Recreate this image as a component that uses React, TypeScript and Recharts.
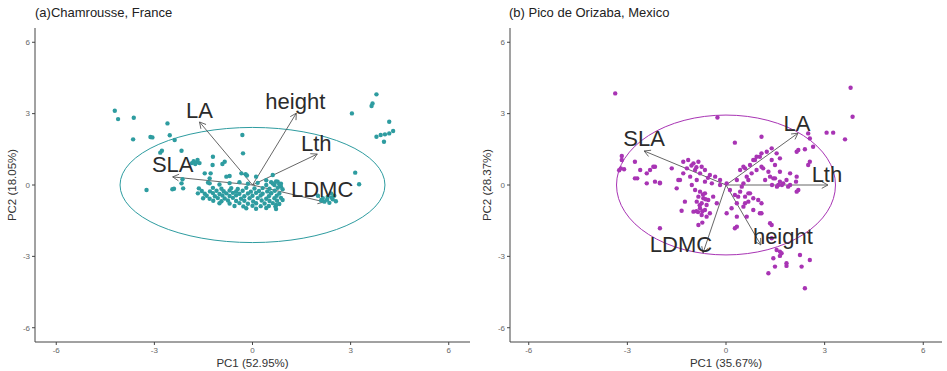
import React from "react";
import {
  ScatterChart,
  Scatter,
  XAxis,
  YAxis,
  ReferenceLine,
} from "recharts";

// ---- data (PCA scores, loadings, label anchors, ellipses) ----

const ticks = [-6, -3, 0, 3, 6];

const scoresA = [
  // scattered points, upper left
  { x: -4.21, y: 3.12 }, { x: -4.11, y: 2.77 }, { x: -3.63, y: 2.83 }, { x: -3.65, y: 1.92 },
  { x: -3.12, y: 2.02 }, { x: -3.06, y: 2.0 }, { x: -2.6, y: 2.59 }, { x: -2.53, y: 2.09 },
  { x: -2.38, y: 1.89 }, { x: -2.77, y: 1.44 }, { x: -2.82, y: 1.36 }, { x: -2.17, y: 1.44 },
  { x: -1.8, y: 1.0 }, { x: -1.72, y: 0.95 }, { x: -1.68, y: 1.05 }, { x: -1.75, y: 0.88 },
  { x: -1.62, y: 0.92 }, { x: -1.85, y: 0.92 }, { x: -1.21, y: 1.19 }, { x: -0.92, y: 0.88 },
  { x: -0.31, y: 2.1 }, { x: -0.29, y: 1.33 },
  { x: -3.24, y: -0.21 }, { x: -2.45, y: -0.18 }, { x: -2.4, y: -0.16 }, { x: -2.17, y: 0.07 },
  { x: -2.12, y: -0.14 }, { x: -2.14, y: 0.24 },
  { x: -1.46, y: 0.49 }, { x: -1.22, y: 0.84 }, { x: -0.85, y: 0.98 }, { x: -0.7, y: 0.38 },
  { x: -0.34, y: 0.49 }, { x: -1.31, y: 0.28 }, { x: -1.31, y: 0.07 }, { x: -1.28, y: 0.49 },
  { x: -0.8, y: 0.35 }, { x: -0.21, y: 0.45 }, { x: -0.17, y: 0.4 }, { x: 0.11, y: 0.35 },
  { x: 0.42, y: 0.2 }, { x: 0.57, y: 0.12 }, { x: 0.72, y: 0.15 }, { x: 0.87, y: 0.05 },
  { x: 0.62, y: 0.42 }, { x: 0.77, y: 0.14 }, { x: 0.67, y: 0.0 }, { x: 0.87, y: -0.07 },
  { x: 0.92, y: -0.63 }, { x: 0.72, y: -0.84 }, { x: 0.57, y: -0.35 },
  // far right
  { x: 3.14, y: 0.52 }, { x: 3.26, y: 0.03 }, { x: 3.04, y: 3.01 }, { x: 3.79, y: 3.81 },
  { x: 3.67, y: 3.43 }, { x: 3.64, y: 3.32 }, { x: 4.18, y: 2.66 }, { x: 4.3, y: 2.27 },
  { x: 4.18, y: 2.17 }, { x: 4.05, y: 2.13 }, { x: 3.92, y: 2.1 }, { x: 3.79, y: 2.03 },
  { x: 4.02, y: 1.82 },
  // cluster at the LDMC arrow tip
  { x: 2.0, y: -0.45 }, { x: 2.15, y: -0.55 }, { x: 2.3, y: -0.5 }, { x: 2.45, y: -0.6 },
  { x: 2.2, y: -0.7 }, { x: 2.35, y: -0.75 }, { x: 2.5, y: -0.45 }, { x: 2.1, y: -0.65 },
  { x: 2.55, y: -0.68 }, { x: 2.4, y: -0.35 }, { x: 2.28, y: -0.62 }, { x: 2.42, y: -0.52 },
  // dense band below the origin
  { x: -1.36, y: 0.1 }, { x: -1.01, y: 0.02 }, { x: -0.7, y: 0.08 }, { x: -0.4, y: 0.12 },
  { x: -0.14, y: 0.05 }, { x: 0.16, y: 0.09 }, { x: 0.42, y: 0.0 }, { x: 0.62, y: 0.06 },
  { x: 0.82, y: 0.03 },
  { x: -1.64, y: -0.14 }, { x: -1.21, y: -0.12 }, { x: -0.95, y: -0.16 }, { x: -0.65, y: -0.13 },
  { x: -0.45, y: -0.17 }, { x: -0.19, y: -0.12 }, { x: 0.06, y: -0.15 }, { x: 0.31, y: -0.13 },
  { x: 0.52, y: -0.16 }, { x: 0.77, y: -0.12 }, { x: 0.92, y: -0.18 },
  { x: -1.55, y: -0.25 }, { x: -1.3, y: -0.27 }, { x: -1.1, y: -0.24 }, { x: -0.88, y: -0.26 },
  { x: -0.7, y: -0.23 }, { x: -0.5, y: -0.27 }, { x: -0.3, y: -0.24 }, { x: -0.05, y: -0.28 },
  { x: 0.2, y: -0.25 }, { x: 0.45, y: -0.27 }, { x: 0.68, y: -0.24 },
  { x: -1.67, y: -0.35 }, { x: -1.46, y: -0.37 }, { x: -1.21, y: -0.34 }, { x: -1.01, y: -0.38 },
  { x: -0.8, y: -0.35 }, { x: -0.6, y: -0.33 }, { x: -0.4, y: -0.37 }, { x: -0.14, y: -0.36 },
  { x: 0.11, y: -0.33 }, { x: 0.31, y: -0.37 }, { x: 0.57, y: -0.34 }, { x: 0.82, y: -0.36 },
  { x: -1.4, y: -0.45 }, { x: -1.15, y: -0.47 }, { x: -0.92, y: -0.44 }, { x: -0.7, y: -0.46 },
  { x: -0.5, y: -0.43 }, { x: -0.25, y: -0.47 }, { x: 0.0, y: -0.45 }, { x: 0.25, y: -0.44 },
  { x: 0.5, y: -0.47 }, { x: 0.74, y: -0.45 },
  { x: -1.51, y: -0.56 }, { x: -1.31, y: -0.58 }, { x: -1.06, y: -0.55 }, { x: -0.85, y: -0.57 },
  { x: -0.6, y: -0.54 }, { x: -0.35, y: -0.58 }, { x: -0.09, y: -0.56 }, { x: 0.16, y: -0.55 },
  { x: 0.42, y: -0.58 }, { x: 0.67, y: -0.56 }, { x: 0.87, y: -0.54 },
  { x: -1.2, y: -0.66 }, { x: -0.95, y: -0.68 }, { x: -0.75, y: -0.65 }, { x: -0.5, y: -0.67 },
  { x: -0.25, y: -0.66 }, { x: 0.02, y: -0.69 }, { x: 0.28, y: -0.65 }, { x: 0.52, y: -0.67 },
  { x: 0.75, y: -0.66 },
  { x: -1.01, y: -0.77 }, { x: -0.7, y: -0.78 }, { x: -0.4, y: -0.76 }, { x: -0.14, y: -0.79 },
  { x: 0.11, y: -0.77 }, { x: 0.37, y: -0.78 }, { x: 0.62, y: -0.76 }, { x: 0.82, y: -0.8 },
  { x: -0.55, y: -0.88 }, { x: -0.28, y: -0.9 }, { x: 0.0, y: -0.87 }, { x: 0.25, y: -0.89 },
  { x: 0.5, y: -0.88 }, { x: 0.7, y: -0.9 },
  { x: -0.19, y: -0.98 }, { x: 0.11, y: -1.0 }, { x: 0.42, y: -0.97 }, { x: 0.72, y: -1.01 },
];

const loadingsA = [
  { name: "LA", x: -1.62, y: 2.65 },
  { name: "height", x: 1.34, y: 3.02 },
  { name: "Lth", x: 1.98, y: 1.3 },
  { name: "SLA", x: -2.44, y: 0.34 },
  { name: "LDMC", x: 2.19, y: -0.71 },
];

const labelsA = [
  { name: "LA", x: -1.62, y: 3.15 },
  { name: "height", x: 1.31, y: 3.49 },
  { name: "Lth", x: 1.95, y: 1.76 },
  { name: "SLA", x: -2.44, y: 0.88 },
  { name: "LDMC", x: 2.13, y: -0.17 },
];

const ellipseA = { cx: 0, cy: 0, rx: 4.05, ry: 2.42 };

const scoresB = [
  // outliers
  { x: -3.37, y: 3.85 }, { x: 3.79, y: 4.09 }, { x: 3.85, y: 2.87 }, { x: 3.62, y: 1.92 },
  { x: 3.06, y: 2.2 }, { x: 3.26, y: 2.2 }, { x: 2.5, y: 2.17 }, { x: 2.55, y: 1.96 },
  { x: 2.65, y: 1.61 }, { x: 2.15, y: 1.4 }, { x: 2.5, y: 0.84 }, { x: 1.08, y: 2.03 },
  { x: 0.27, y: 1.78 }, { x: -0.26, y: 2.84 },
  // left side
  { x: -3.17, y: 1.22 }, { x: -3.2, y: 0.7 }, { x: -3.25, y: 0.62 }, { x: -3.1, y: 0.66 },
  { x: -3.17, y: 1.05 }, { x: -2.77, y: 0.98 }, { x: -2.7, y: 0.28 }, { x: -2.41, y: 0.49 },
  { x: -2.16, y: 0.77 }, { x: -2.16, y: 0.14 }, { x: -2.01, y: 0.1 }, { x: -1.65, y: 0.7 },
  { x: -2.61, y: 0.63 }, { x: -2.77, y: 0.28 }, { x: -2.41, y: 0.07 }, { x: -2.21, y: 0.77 },
  { x: -2.31, y: 0.63 }, { x: -2.01, y: 0.07 }, { x: -1.45, y: 0.21 }, { x: -1.5, y: -0.14 },
  { x: -1.25, y: -0.7 }, { x: -2.01, y: -1.82 },
  { x: -1.35, y: -1.08 }, { x: -0.99, y: -1.12 }, { x: -0.9, y: -1.1 }, { x: -0.85, y: -1.14 },
  { x: -0.72, y: -1.58 }, { x: -0.84, y: -1.68 },
  // cluster along SLA arrow
  { x: -1.3, y: 0.98 }, { x: -1.15, y: 1.05 }, { x: -0.99, y: 0.91 }, { x: -0.84, y: 0.98 },
  { x: -0.74, y: 0.77 }, { x: -0.64, y: 0.63 }, { x: -1.19, y: 0.7 }, { x: -0.94, y: 0.63 },
  { x: -0.79, y: 0.49 }, { x: -0.49, y: 0.42 }, { x: -0.33, y: 0.35 }, { x: -0.18, y: 0.21 },
  { x: -1.09, y: 0.35 }, { x: -0.89, y: 0.21 }, { x: -0.64, y: 0.14 }, { x: -0.43, y: 0.07 },
  { x: -1.4, y: 0.21 }, { x: -1.3, y: 0.49 }, { x: -1.04, y: 0.0 }, { x: -0.18, y: 0.0 },
  { x: 0.02, y: 0.07 }, { x: -1.05, y: 0.82 }, { x: -0.9, y: 0.75 }, { x: -0.55, y: 0.3 },
  // vertical blob below
  { x: -0.94, y: -0.21 }, { x: -0.79, y: -0.28 }, { x: -0.64, y: -0.35 }, { x: -0.84, y: -0.49 },
  { x: -0.69, y: -0.56 }, { x: -0.54, y: -0.63 }, { x: -0.89, y: -0.7 }, { x: -0.74, y: -0.77 },
  { x: -0.59, y: -0.84 }, { x: -0.79, y: -0.98 }, { x: -0.64, y: -1.05 }, { x: -0.49, y: -1.19 },
  { x: -0.74, y: -1.26 }, { x: -0.59, y: -1.33 }, { x: -0.39, y: -0.49 }, { x: -0.28, y: -0.77 },
  { x: -0.7, y: -0.4 }, { x: -0.8, y: -0.85 }, { x: -0.62, y: -0.6 }, { x: -0.72, y: -1.1 },
  // cluster along LA arrow
  { x: 0.43, y: 0.63 }, { x: 0.58, y: 0.7 }, { x: 0.73, y: 0.84 }, { x: 0.83, y: 1.05 },
  { x: 0.93, y: 1.19 }, { x: 1.08, y: 1.33 }, { x: 1.24, y: 1.4 }, { x: 1.39, y: 1.54 },
  { x: 0.63, y: 0.35 }, { x: 0.78, y: 0.49 }, { x: 0.93, y: 0.63 }, { x: 1.08, y: 0.77 },
  { x: 0.33, y: 0.21 }, { x: 0.53, y: 0.07 }, { x: 0.68, y: 0.21 }, { x: 0.53, y: 0.77 },
  { x: 0.88, y: 1.05 }, { x: 1.03, y: 1.19 }, { x: 0.48, y: -0.07 },
  { x: 1.39, y: 1.05 }, { x: 1.54, y: 1.33 }, { x: 1.64, y: 1.12 }, { x: 1.49, y: 0.84 },
  { x: 1.29, y: 0.56 }, { x: 1.13, y: 0.7 }, { x: 1.64, y: 0.56 }, { x: 1.95, y: 0.49 },
  { x: 1.74, y: 0.07 }, { x: 1.89, y: -0.07 }, { x: 2.2, y: -0.21 }, { x: 1.59, y: 0.0 },
  { x: 2.2, y: 1.47 }, { x: 2.4, y: 1.5 }, { x: 2.55, y: 0.98 }, { x: 2.15, y: 0.35 },
  // along Lth arrow
  { x: 1.19, y: 0.21 }, { x: 1.34, y: 0.35 }, { x: 1.49, y: 0.28 }, { x: 1.64, y: 0.14 },
  { x: 1.84, y: 0.21 }, { x: 1.95, y: 0.0 }, { x: 1.7, y: 0.0 }, { x: 1.55, y: -0.07 },
  { x: 1.4, y: 0.0 }, { x: 2.13, y: 0.14 }, { x: 2.15, y: -0.28 }, { x: 1.44, y: 0.28 },
  // cluster along height arrow
  { x: 0.12, y: -0.21 }, { x: 0.27, y: -0.42 }, { x: 0.43, y: -0.28 }, { x: 0.58, y: -0.49 },
  { x: 0.73, y: -0.35 }, { x: 0.33, y: -0.77 }, { x: 0.53, y: -0.91 }, { x: 0.68, y: -0.7 },
  { x: 0.83, y: -1.05 }, { x: 0.17, y: -0.98 }, { x: 1.03, y: -1.19 }, { x: 1.08, y: -0.77 },
  { x: 0.63, y: -1.33 }, { x: 0.33, y: -1.33 }, { x: 0.68, y: -0.35 }, { x: 0.83, y: -0.56 },
  { x: 0.98, y: -0.63 }, { x: 0.58, y: -0.77 }, { x: 0.37, y: -0.49 },
  { x: 0.02, y: -1.19 }, { x: 0.33, y: -1.75 }, { x: 0.27, y: -1.82 }, { x: 1.08, y: -1.19 },
  { x: 1.34, y: -1.61 }, { x: 1.39, y: -1.68 },
  // lower right spread
  { x: 1.39, y: -2.24 }, { x: 1.54, y: -2.73 }, { x: 1.64, y: -2.8 }, { x: 1.69, y: -2.87 },
  { x: 1.64, y: -2.98 }, { x: 1.44, y: -3.08 }, { x: 1.84, y: -3.29 }, { x: 1.49, y: -3.43 },
  { x: 2.25, y: -2.94 }, { x: 2.55, y: -3.15 }, { x: 2.3, y: -3.43 }, { x: 1.29, y: -3.71 },
  { x: 2.4, y: -4.34 }, { x: 1.84, y: -3.4 },
];

const loadingsB = [
  { name: "SLA", x: -2.49, y: 1.43 },
  { name: "LA", x: 2.19, y: 2.18 },
  { name: "Lth", x: 3.1, y: 0.0 },
  { name: "height", x: 1.06, y: -2.52 },
  { name: "LDMC", x: -0.7, y: -2.86 },
];

const labelsB = [
  { name: "SLA", x: -2.49, y: 1.97 },
  { name: "LA", x: 2.16, y: 2.6 },
  { name: "Lth", x: 3.07, y: 0.46 },
  { name: "height", x: 1.73, y: -2.18 },
  { name: "LDMC", x: -1.37, y: -2.52 },
];

const ellipseB = { cx: 0, cy: 0, rx: 3.33, ry: 2.94 };

const TEAL = "#2e9ca0";
const PURPLE = "#a834b4";
const FONT = "'Liberation Sans', Arial, sans-serif";

function arrowShape(props: any) {
  const { x1, y1, x2, y2 } = props;
  const ang = Math.atan2(y2 - y1, x2 - x1);
  const len = 7;
  const spread = 0.5;
  const stroke = "#555";
  return (
    <g>
      <line x1={x1} y1={y1} x2={x2} y2={y2} stroke={stroke} strokeWidth={0.9} />
      <line
        x1={x2}
        y1={y2}
        x2={x2 - len * Math.cos(ang - spread)}
        y2={y2 - len * Math.sin(ang - spread)}
        stroke={stroke}
        strokeWidth={0.9}
      />
      <line
        x1={x2}
        y1={y2}
        x2={x2 - len * Math.cos(ang + spread)}
        y2={y2 - len * Math.sin(ang + spread)}
        stroke={stroke}
        strokeWidth={0.9}
      />
    </g>
  );
}

function ellipseShape(color: string) {
  return (props: any) => {
    const { x1, y1, x2, y2 } = props;
    return (
      <ellipse
        cx={(x1 + x2) / 2}
        cy={(y1 + y2) / 2}
        rx={Math.abs(x2 - x1) / 2}
        ry={Math.abs(y2 - y1) / 2}
        fill="none"
        stroke={color}
        strokeWidth={1}
      />
    );
  };
}

function dotShape(color: string) {
  return (props: any) => <circle cx={props.cx} cy={props.cy} r={2.2} fill={color} />;
}

function textShape(props: any) {
  return (
    <text
      x={props.cx}
      y={props.cy}
      textAnchor="middle"
      dominantBaseline="central"
      fontSize={22}
      fontFamily={FONT}
      fill="#2b2b2b"
    >
      {props.payload.name}
    </text>
  );
}

interface PanelProps {
  title: string;
  xLabel: string;
  yLabel: string;
  scores: { x: number; y: number }[];
  loadings: { name: string; x: number; y: number }[];
  labels: { name: string; x: number; y: number }[];
  ellipse: { cx: number; cy: number; rx: number; ry: number };
  color: string;
  xDomain: [number, number];
  left: number;
  marginLeft: number;
  marginRight: number;
}

function Panel(p: PanelProps) {
  const tickStyle = { fontSize: 8, fill: "#666", fontFamily: FONT };
  return (
    <div style={{ position: "absolute", left: p.left, top: 0, width: 473, height: 371 }}>
      <div
        style={{
          position: "absolute",
          left: 35,
          top: 5,
          fontSize: 13,
          fontFamily: FONT,
          color: "#222",
          whiteSpace: "nowrap",
        }}
      >
        {p.title}
      </div>
      <ScatterChart
        width={473}
        height={371}
        margin={{ top: 28, right: p.marginRight, bottom: 0, left: p.marginLeft }}
      >
        <XAxis
          type="number"
          dataKey="x"
          domain={p.xDomain}
          ticks={ticks}
          tick={tickStyle}
          tickSize={3}
          tickMargin={2}
          height={29}
          axisLine={{ stroke: "#444" }}
          tickLine={{ stroke: "#444" }}
          label={{
            value: p.xLabel,
            position: "insideBottom",
            offset: 4,
            style: { fontSize: 11.5, fill: "#333", fontFamily: FONT },
          }}
        />
        <YAxis
          type="number"
          dataKey="y"
          domain={[-6.6, 6.6]}
          ticks={ticks}
          tick={tickStyle}
          tickSize={3}
          tickMargin={2}
          width={30}
          axisLine={{ stroke: "#444" }}
          tickLine={{ stroke: "#444" }}
          label={{
            value: p.yLabel,
            angle: -90,
            position: "insideLeft",
            offset: 7,
            style: { fontSize: 11.5, fill: "#333", fontFamily: FONT, textAnchor: "middle" },
          }}
        />
        <Scatter data={p.scores} shape={dotShape(p.color)} isAnimationActive={false} />
        <ReferenceLine
          segment={[
            { x: p.ellipse.cx - p.ellipse.rx, y: p.ellipse.cy - p.ellipse.ry },
            { x: p.ellipse.cx + p.ellipse.rx, y: p.ellipse.cy + p.ellipse.ry },
          ]}
          shape={ellipseShape(p.color)}
        />
        {p.loadings.map((l) => (
          <ReferenceLine
            key={l.name}
            segment={[
              { x: 0, y: 0 },
              { x: l.x, y: l.y },
            ]}
            shape={arrowShape}
          />
        ))}
        <Scatter data={p.labels} shape={textShape} isAnimationActive={false} />
      </ScatterChart>
    </div>
  );
}

export default function App() {
  return (
    <div
      style={{
        position: "absolute",
        left: 0,
        top: 0,
        width: 947,
        height: 371,
        background: "#fff",
      }}
    >
      <Panel
        title="(a)Chamrousse, France"
        xLabel="PC1 (52.95%)"
        yLabel="PC2 (18.05%)"
        scores={scoresA}
        loadings={loadingsA}
        labels={labelsA}
        ellipse={ellipseA}
        color={TEAL}
        xDomain={[-6.65, 6.65]}
        left={0}
        marginLeft={5}
        marginRight={3}
      />
      <Panel
        title="(b) Pico de Orizaba, Mexico"
        xLabel="PC1 (35.67%)"
        yLabel="PC2 (28.37%)"
        scores={scoresB}
        loadings={loadingsB}
        labels={labelsB}
        ellipse={ellipseB}
        color={PURPLE}
        xDomain={[-6.57, 6.57]}
        left={474}
        marginLeft={6}
        marginRight={5}
      />
    </div>
  );
}
